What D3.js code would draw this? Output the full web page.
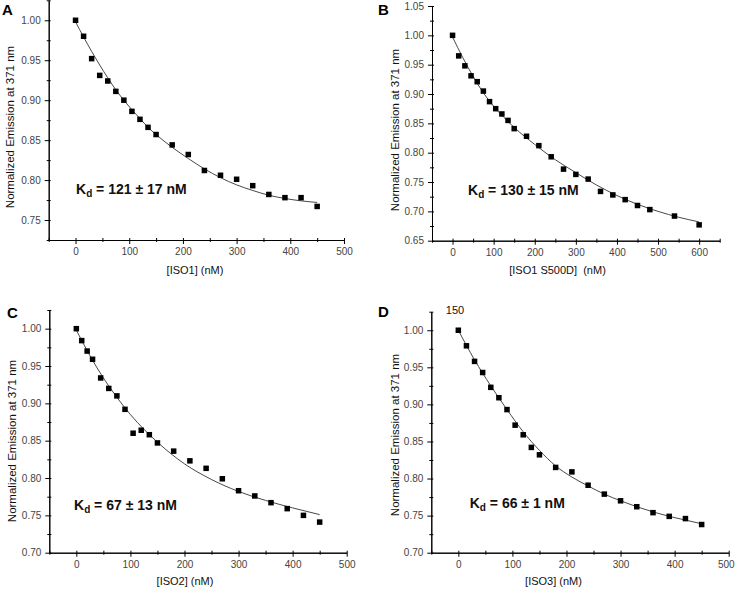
<!DOCTYPE html>
<html>
<head>
<meta charset="utf-8">
<script src="https://cdn.jsdelivr.net/npm/d3@7"></script>
<style>
  html, body { margin: 0; padding: 0; background: #fff; }
  svg { display: block; font-family: "Liberation Sans", Arial, sans-serif; }
  .tick text { fill: #444; font-size: 10px; }
  .domain, .tick line { stroke: #000; stroke-width: 1; }
</style>
</head>
<body>
<div id="chart"></div>
<script>
// panel A: ISO1
const concA = [0, 15, 30, 45, 60, 75, 90, 105, 120, 135, 150, 180, 210, 240, 270, 300, 330, 360, 390, 420, 450];
const emisA = [1.000, 0.980, 0.952, 0.931, 0.924, 0.911, 0.900, 0.886, 0.876, 0.866, 0.857, 0.844, 0.832, 0.812, 0.806, 0.801, 0.793, 0.782, 0.778, 0.778, 0.767];
const fitConcA = [0, 15, 30, 45, 60, 75, 90, 105, 120, 135, 150, 180, 210, 240, 270, 300, 330, 360, 390, 420, 450];
const fitEmisA = [0.998, 0.979, 0.961, 0.944, 0.928, 0.913, 0.900, 0.888, 0.877, 0.866, 0.857, 0.841, 0.827, 0.814, 0.803, 0.794, 0.787, 0.781, 0.777, 0.774, 0.772];

// panel B: ISO1 S500D
const concB = [0, 15, 30, 45, 60, 75, 90, 105, 120, 135, 150, 180, 210, 240, 270, 300, 330, 360, 390, 420, 450, 480, 540, 600];
const emisB = [1.000, 0.965, 0.948, 0.931, 0.921, 0.905, 0.887, 0.875, 0.866, 0.855, 0.841, 0.828, 0.812, 0.793, 0.772, 0.763, 0.755, 0.734, 0.728, 0.720, 0.710, 0.703, 0.692, 0.677];
const fitConcB = [0, 25, 50, 75, 100, 125, 150, 200, 250, 300, 350, 400, 450, 500, 550, 600];
const fitEmisB = [0.997, 0.962, 0.930, 0.902, 0.879, 0.860, 0.843, 0.814, 0.788, 0.766, 0.745, 0.727, 0.712, 0.700, 0.690, 0.682];

// panel C: ISO2
const concC = [0, 10, 20, 30, 45, 60, 75, 90, 105, 120, 135, 150, 180, 210, 240, 270, 300, 330, 360, 390, 420, 450];
const emisC = [1.000, 0.984, 0.970, 0.959, 0.934, 0.920, 0.910, 0.892, 0.860, 0.864, 0.858, 0.847, 0.836, 0.823, 0.813, 0.799, 0.783, 0.776, 0.767, 0.759, 0.750, 0.741];
const fitConcC = [0, 25, 50, 75, 100, 150, 200, 250, 300, 350, 400, 450];
const fitEmisC = [0.998, 0.964, 0.934, 0.908, 0.885, 0.848, 0.819, 0.798, 0.782, 0.770, 0.760, 0.751];

// panel D: ISO3
const concD = [0, 15, 30, 45, 60, 75, 90, 105, 120, 135, 150, 180, 210, 240, 270, 300, 330, 360, 390, 420, 450];
const emisD = [1.000, 0.979, 0.958, 0.943, 0.923, 0.909, 0.893, 0.872, 0.859, 0.842, 0.832, 0.815, 0.809, 0.791, 0.779, 0.770, 0.762, 0.754, 0.749, 0.746, 0.738];
const fitConcD = [0, 30, 60, 90, 120, 150, 180, 210, 240, 270, 300, 330, 360, 390, 420, 450];
const fitEmisD = [1.000, 0.960, 0.925, 0.893, 0.863, 0.838, 0.817, 0.802, 0.790, 0.779, 0.770, 0.762, 0.755, 0.749, 0.744, 0.739];

const panelLetters = ['A', 'B', 'C', 'D'];
const xTitles = ['[ISO1] (nM)', '[ISO1 S500D]  (nM)', '[ISO2] (nM)', '[ISO3] (nM)'];
const kdValues = ['121 ± 17', '130 ± 15', '67 ± 13', '66 ± 1'];
const yTitle = 'Normalized Emission at 371 nm';

const width = 736;
const height = 589;

// layout of each panel (pixel boxes and axis ranges)
const panels = [
    { conc: concA, emis: emisA, fitX: fitConcA, fitY: fitEmisA,
      left: 48.7, right: 344, top: 0.3, bottom: 240,
      xDomain: [-50, 500], yDomain: [0.725, 1.025], xMax: 500, yMin: 0.75, yMax: 1.00,
      letter: [2, 15], yTitle: [10, 127], xTitle: [195, 274], kd: [76, 194] },
    { conc: concB, emis: emisB, fitX: fitConcB, fitY: fitEmisB,
      left: 432, right: 719.7, top: 6, bottom: 240.7,
      xDomain: [-50, 650], yDomain: [0.65, 1.05], xMax: 600, yMin: 0.65, yMax: 1.05,
      letter: [378, 15], yTitle: [394.5, 130], xTitle: [557.5, 274], kd: [468, 195] },
    { conc: concC, emis: emisC, fitX: fitConcC, fitY: fitEmisC,
      left: 49.3, right: 346.7, top: 310, bottom: 552.7,
      xDomain: [-50, 500], yDomain: [0.70, 1.025], xMax: 500, yMin: 0.70, yMax: 1.00,
      letter: [7, 318], yTitle: [12, 441], xTitle: [185, 585], kd: [74, 510] },
    { conc: concD, emis: emisD, fitX: fitConcD, fitY: fitEmisD,
      left: 431.3, right: 728.7, top: 311.7, bottom: 552.7,
      xDomain: [-50, 500], yDomain: [0.70, 1.025], xMax: 500, yMin: 0.70, yMax: 1.00,
      letter: [378, 317], yTitle: [394.5, 435], xTitle: [553.5, 585], kd: [469.7, 508] }
];

const svg = d3.select('#chart')
    .append('svg')
    .attr('width', width)
    .attr('height', height);

panels.forEach((p, i) => drawPanel(p, i));

// stray label at top of panel D
svg.append('text')
    .attr('x', 455)
    .attr('y', 314)
    .attr('text-anchor', 'middle')
    .style('font-size', '11px')
    .style('fill', '#111')
    .text('150');

// pull in any tick label that runs past the right edge
svg.selectAll('.tick text').each(function () {
    let box = this.getBBox();
    let tx = this.parentNode.transform.baseVal.consolidate();
    let right = (tx ? tx.matrix.e : 0) + box.x + box.width;
    if (right > width - 1) {
        d3.select(this).attr('x', width - 1 - right);
    }
});

function drawPanel(p, i) {
    let x = d3.scaleLinear().domain(p.xDomain).range([p.left, p.right]);
    let y = d3.scaleLinear().domain(p.yDomain).range([p.bottom, p.top]);
    let g = svg.append('g').attr('class', 'panel');

    let xMajor = d3.range(0, p.xMax + 1, 100);
    let xMinor = d3.range(p.xDomain[0], p.xDomain[1] + 1, 50).filter(v => v % 100 != 0);
    let yMajor = d3.range(Math.round(p.yMin * 100), Math.round(p.yMax * 100) + 1, 5).map(v => v / 100);
    let yMinor = d3.range(Math.round(p.yDomain[0] * 1000), Math.round(p.yDomain[1] * 1000) + 1, 25)
        .filter(v => v % 50 != 0)
        .map(v => v / 1000);

    // ticks cross the axis line a little
    g.append('g')
        .attr('transform', `translate(0,${p.bottom})`)
        .call(d3.axisBottom(x).tickValues(xMinor).tickSize(2).tickSizeOuter(0).tickFormat(''))
        .selectAll('.tick line').attr('y1', -2);
    g.append('g')
        .attr('transform', `translate(0,${p.bottom})`)
        .call(d3.axisBottom(x).tickValues(xMajor).tickSize(4).tickPadding(4).tickSizeOuter(0).tickFormat(d3.format('d')))
        .selectAll('.tick line').attr('y1', -2);

    g.append('g')
        .attr('transform', `translate(${p.left},0)`)
        .call(d3.axisLeft(y).tickValues(yMinor).tickSize(2).tickSizeOuter(0).tickFormat(''))
        .selectAll('.tick line').attr('x1', 2);
    g.append('g')
        .attr('transform', `translate(${p.left},0)`)
        .call(d3.axisLeft(y).tickValues(yMajor).tickSize(4).tickPadding(4).tickSizeOuter(0).tickFormat(d3.format('.2f')))
        .selectAll('.tick line').attr('x1', 2);

    let fit = p.fitX.map((c, k) => [c, p.fitY[k]]);
    const line = d3.line()
        .x(d => x(d[0]))
        .y(d => y(d[1]))
        .curve(d3.curveMonotoneX);
    g.append('path')
        .attr('d', line(fit))
        .attr('fill', 'none')
        .attr('stroke', '#333')
        .attr('stroke-width', 0.9);

    const size = 5.5;
    g.selectAll('.pt')
        .data(p.conc.map((c, k) => [c, p.emis[k]]))
        .enter()
        .append('rect')
        .attr('class', 'pt')
        .attr('x', d => x(d[0]) - size / 2)
        .attr('y', d => y(d[1]) - size / 2)
        .attr('width', size)
        .attr('height', size)
        .attr('fill', '#000');

    g.append('text')
        .attr('x', p.letter[0])
        .attr('y', p.letter[1])
        .style('font-size', '15px')
        .style('font-weight', 'bold')
        .text(panelLetters[i]);

    g.append('text')
        .attr('transform', `translate(${p.yTitle[0]},${p.yTitle[1]}) rotate(-90)`)
        .attr('text-anchor', 'middle')
        .attr('dominant-baseline', 'central')
        .style('font-size', '11.5px')
        .style('fill', '#111')
        .text(yTitle);

    g.append('text')
        .attr('x', p.xTitle[0])
        .attr('y', p.xTitle[1])
        .attr('text-anchor', 'middle')
        .style('font-size', '11px')
        .style('fill', '#111')
        .style('white-space', 'pre')
        .text(xTitles[i]);

    let kd = g.append('text')
        .attr('x', p.kd[0])
        .attr('y', p.kd[1])
        .style('font-size', '14px')
        .style('font-weight', 'bold')
        .style('fill', '#111');
    kd.append('tspan').text('K');
    kd.append('tspan').attr('dy', 3).style('font-size', '10px').text('d');
    kd.append('tspan').attr('dy', -3).text(' = ' + kdValues[i] + ' nM');
}
</script>
</body>
</html>
